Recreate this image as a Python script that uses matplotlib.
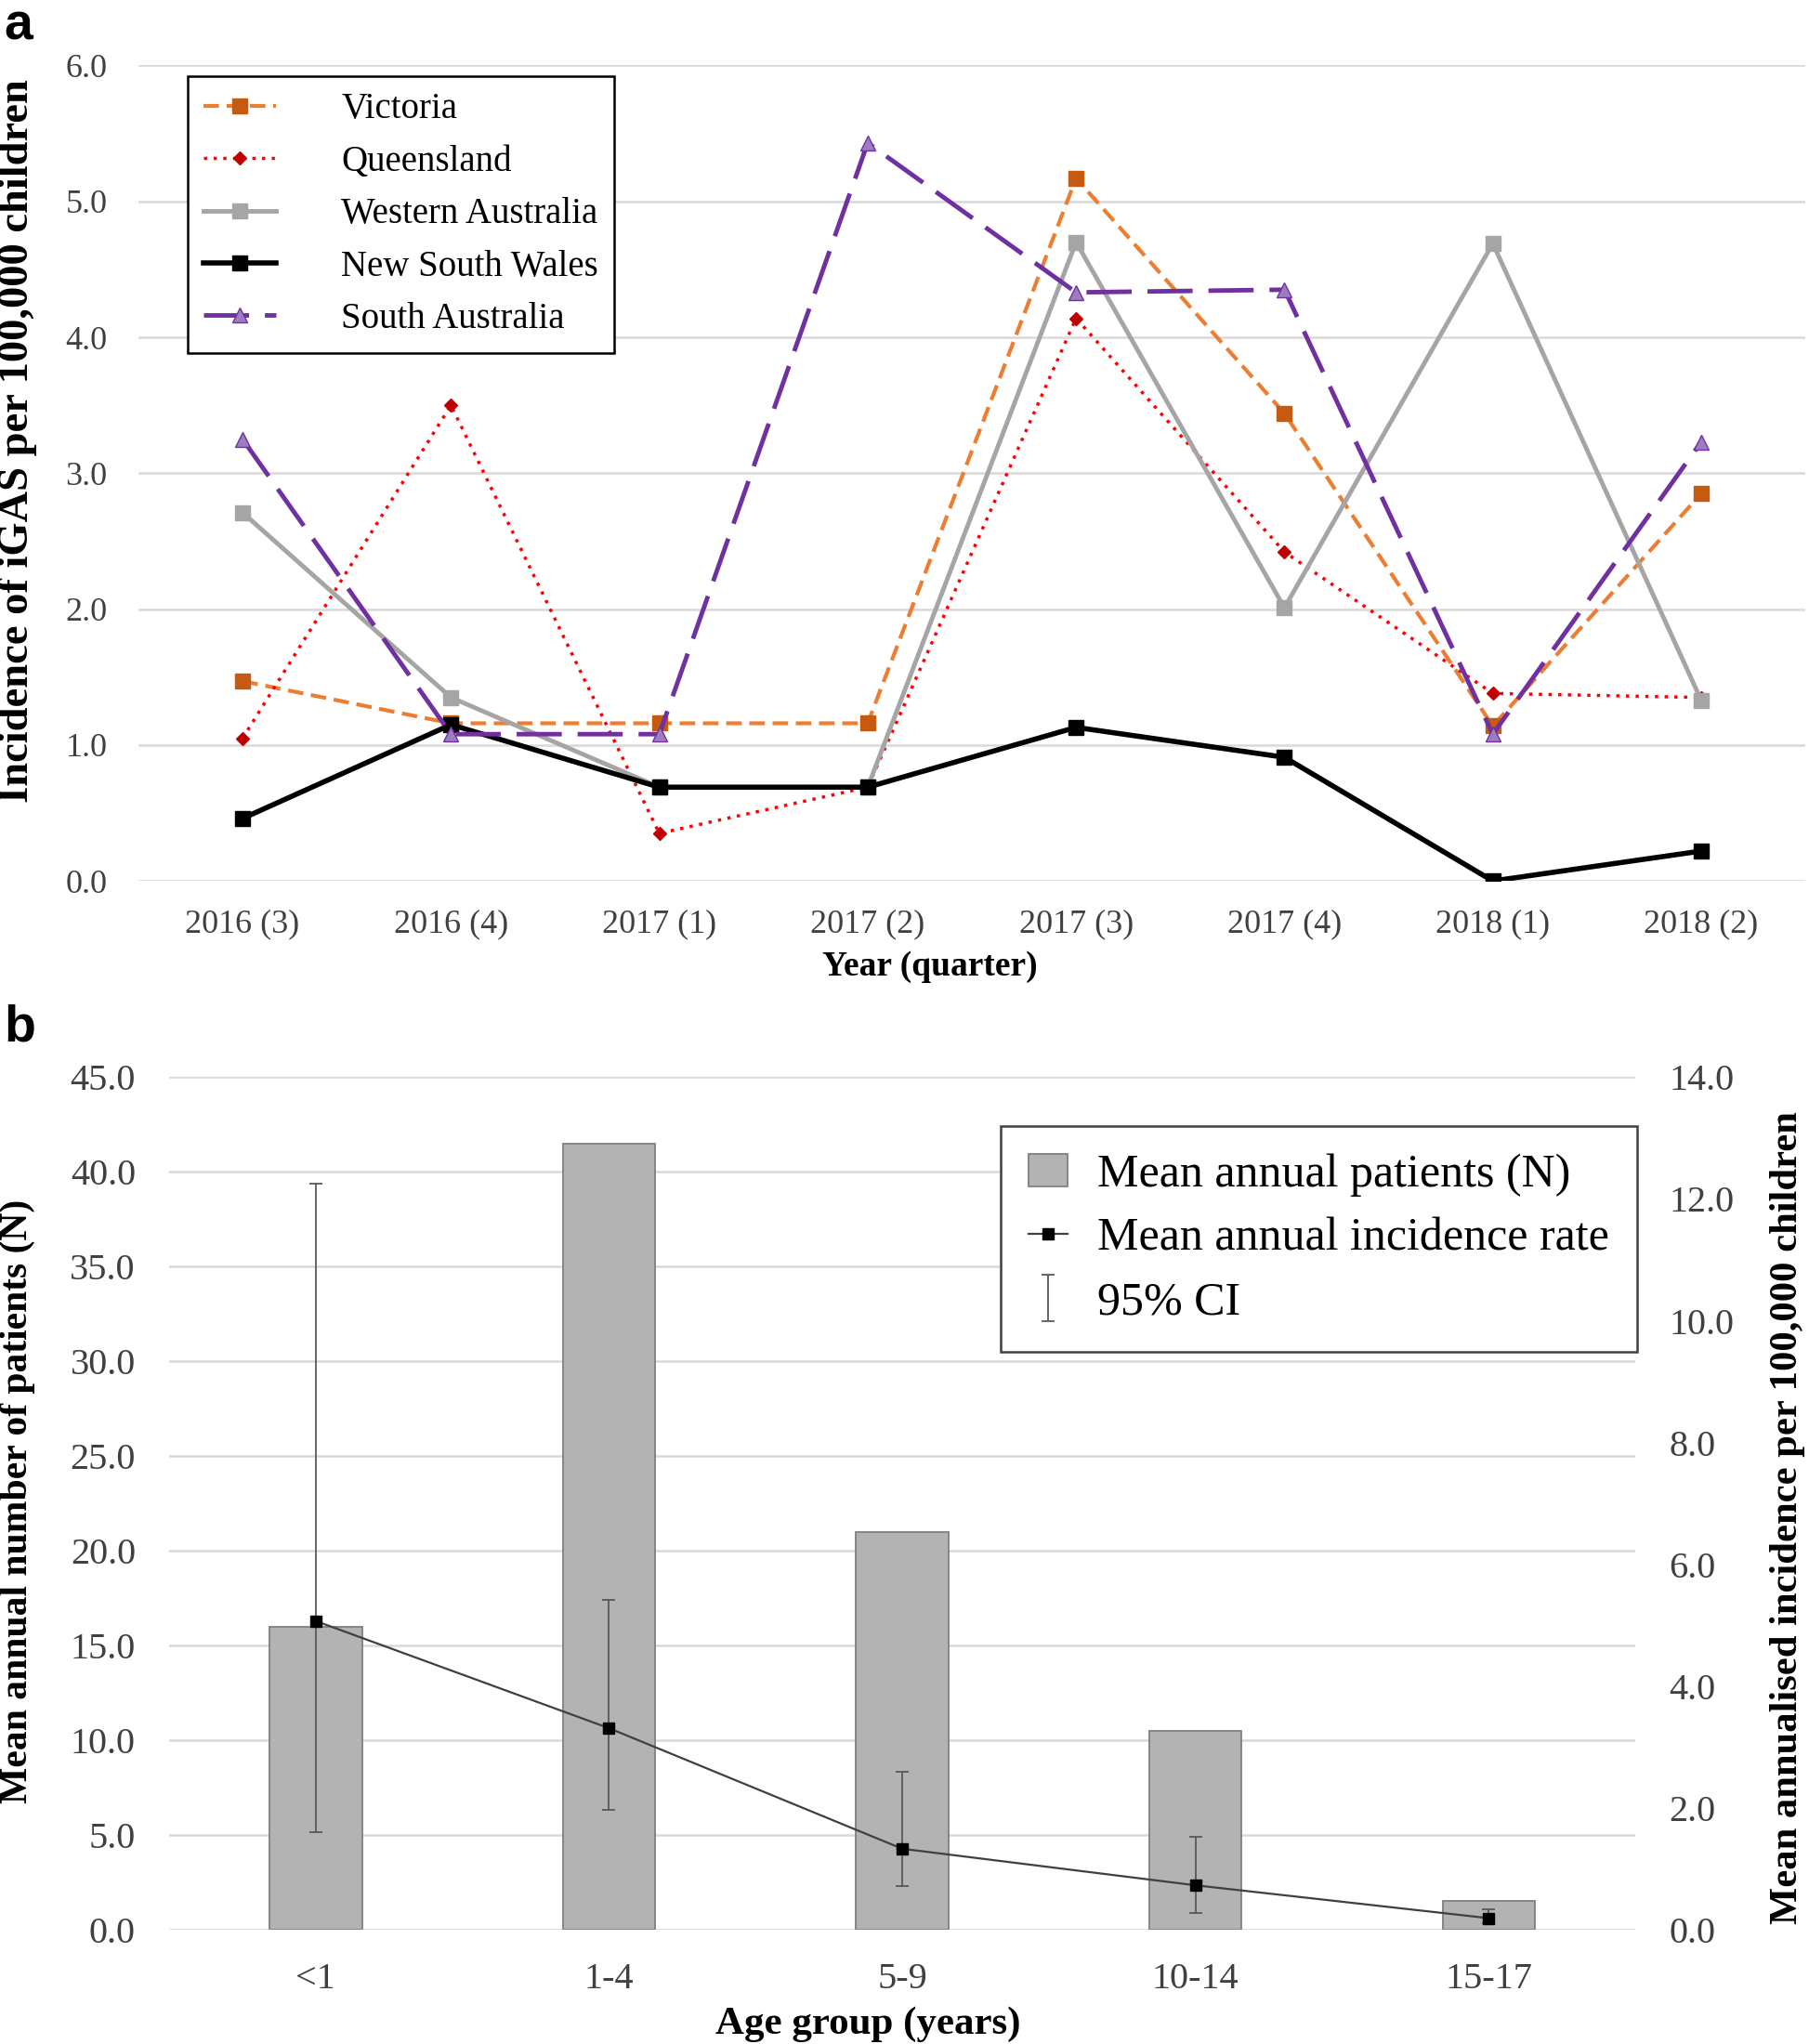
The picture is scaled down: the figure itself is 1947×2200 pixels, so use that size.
import matplotlib
matplotlib.use("Agg")
import matplotlib.pyplot as plt
from matplotlib.patches import Patch
from matplotlib.lines import Line2D

plt.rcParams["font.family"] = ["Liberation Serif", "DejaVu Serif"]

# ---- panel a data ----
quarters = ["2016 (3)", "2016 (4)", "2017 (1)", "2017 (2)", "2017 (3)", "2017 (4)", "2018 (1)", "2018 (2)"]
victoria = [1.47, 1.16, 1.16, 1.16, 5.17, 3.44, 1.14, 2.85]
queensland = [1.05, 3.50, 0.35, 0.69, 4.14, 2.42, 1.38, 1.35]
western_australia = [2.71, 1.35, 0.69, 0.69, 4.70, 2.01, 4.69, 1.33]
new_south_wales = [0.46, 1.15, 0.69, 0.69, 1.13, 0.91, 0.00, 0.22]
south_australia = [3.25, 1.08, 1.08, 5.43, 4.33, 4.35, 1.08, 3.23]

# ---- panel b data ----
age_groups = ["<1", "1-4", "5-9", "10-14", "15-17"]
mean_patients = [16.0, 41.5, 21.0, 10.5, 1.5]
mean_rate = [5.07, 3.31, 1.33, 0.73, 0.19]
ci_low = [1.60, 1.97, 0.71, 0.28, 0.11]
ci_high = [12.25, 5.41, 2.59, 1.52, 0.34]

tick_col = "#404040"
grid_col = "#d9d9d9"

fig = plt.figure(figsize=(19.47, 22.0), dpi=100)

# ================= panel a =================
ax = fig.add_axes([0.0765, 0.569, 0.9215, 0.399])
x = list(range(len(quarters)))
ax.plot(x, victoria, color="#ED7D31", lw=3, linestyle=(0, (4, 2)), marker="s", ms=11,
        mfc="#C55A11", mec="#C55A11", label="Victoria")
ax.plot(x, queensland, color="#FF0000", lw=2.5, linestyle=(0, (1, 2)), marker="D", ms=7,
        mfc="#C00000", mec="#C00000", label="Queensland")
ax.plot(x, western_australia, color="#A5A5A5", lw=3.5, marker="s", ms=11,
        mfc="#A5A5A5", mec="#A5A5A5", label="Western Australia")
ax.plot(x, new_south_wales, color="black", lw=4, marker="s", ms=11,
        mfc="black", mec="black", label="New South Wales")
ax.plot(x, south_australia, color="#7030A0", lw=3.5, linestyle=(0, (10, 3.5)), marker="^", ms=11,
        mfc="#9E7CC1", mec="#7030A0", label="South Australia")

ax.set_xlim(-0.5, 7.5)
ax.set_ylim(0, 6.0)
ax.set_yticks([0, 1, 2, 3, 4, 5, 6])
ax.set_yticklabels([f"{v:.1f}" for v in [0, 1, 2, 3, 4, 5, 6]])
ax.set_xticks(x)
ax.set_xticklabels(quarters)
ax.tick_params(axis="y", length=0, pad=24, labelsize=26, labelcolor=tick_col)
ax.tick_params(axis="x", length=0, pad=22, labelsize=26, labelcolor=tick_col)
ax.grid(axis="y", color=grid_col, lw=1.8)
ax.set_axisbelow(True)
for s in ax.spines.values():
    s.set_visible(False)
ax.set_xlabel("Year (quarter)", fontsize=27, fontweight="bold", labelpad=8)
ax.xaxis.label.set_x(0.475)
ax.set_ylabel("Incidence of iGAS per 100,000 children", fontsize=33.5, fontweight="bold")
ax.yaxis.set_label_coords(-0.061, 0.54)

leg = ax.legend(loc="upper left", bbox_to_anchor=(0.0295, 0.987), fontsize=28,
                frameon=True, fancybox=False, edgecolor="black", framealpha=1,
                borderaxespad=0, borderpad=0.45, handlelength=2.0, handletextpad=1.8,
                labelspacing=0.5)
leg.get_frame().set_linewidth(1.8)

fig.text(0.002, 0.999, "a", fontsize=40, fontweight="bold", family="Liberation Sans",
         ha="left", va="top")

# ================= panel b =================
axb = fig.add_axes([0.0935, 0.0559, 0.8105, 0.4171])
xb = list(range(len(age_groups)))
bars = axb.bar(xb, mean_patients, width=0.315, color="#b3b3b3", edgecolor="#7f7f7f", lw=1.3)
axb.set_xlim(-0.5, 4.5)
axb.set_ylim(0, 45)
yt = [0, 5, 10, 15, 20, 25, 30, 35, 40, 45]
axb.set_yticks(yt)
axb.set_yticklabels([f"{v:.1f}" for v in yt])
axb.set_xticks(xb)
axb.set_xticklabels(age_groups)
axb.tick_params(axis="y", length=0, pad=26, labelsize=29, labelcolor=tick_col)
axb.tick_params(axis="x", length=0, pad=25, labelsize=29, labelcolor=tick_col)
axb.grid(axis="y", color=grid_col, lw=1.8)
axb.set_axisbelow(True)
for s in axb.spines.values():
    s.set_visible(False)
axb.set_xlabel("Age group (years)", fontsize=31, fontweight="bold", labelpad=8)
axb.xaxis.label.set_x(0.4766)
axb.set_ylabel("Mean annual number of patients (N)", fontsize=30, fontweight="bold")
axb.yaxis.set_label_coords(-0.091, 0.503)

ax2 = axb.twinx()
yerr = [[m - lo for m, lo in zip(mean_rate, ci_low)], [hi - m for m, hi in zip(mean_rate, ci_high)]]
ci = ax2.errorbar(xb, mean_rate, yerr=yerr, fmt="none", ecolor="#595959", elinewidth=1.3,
                  capsize=5, capthick=1.3)
rate_line, = ax2.plot(xb, mean_rate, color="#404040", lw=1.6, marker="s", ms=9,
                      mfc="black", mec="black")
ax2.set_ylim(0, 14)
rt = [0, 2, 4, 6, 8, 10, 12, 14]
ax2.set_yticks(rt)
ax2.set_yticklabels([f"{v:.1f}" for v in rt])
ax2.tick_params(axis="y", length=0, pad=26, labelsize=29, labelcolor=tick_col)
for s in ax2.spines.values():
    s.set_visible(False)
ax2.set_ylabel("Mean annualised incidence per 100,000 children", fontsize=30.7,
               fontweight="bold", rotation=90)
ax2.yaxis.set_label_coords(1.092, 0.483)

handles = [Patch(facecolor="#b3b3b3", edgecolor="#7f7f7f", lw=1.3),
           Line2D([], [], color="#404040", lw=1.6, marker="s", ms=9, mfc="black", mec="black"),
           ci]
labels = ["Mean annual patients (N)", "Mean annual incidence rate", "95% CI"]
legb = ax2.legend(handles, labels, loc="upper left", bbox_to_anchor=(0.567, 0.943), fontsize=36,
                  frameon=True, fancybox=False, edgecolor="#404040", framealpha=1,
                  borderaxespad=0, borderpad=0.6, handlelength=0.84, handletextpad=0.65,
                  labelspacing=0.44)
legb.get_frame().set_linewidth(1.8)

fig.text(0.002, 0.509, "b", fontsize=40, fontweight="bold", family="Liberation Sans",
         ha="left", va="top")

fig.savefig("out.png", dpi=100)
